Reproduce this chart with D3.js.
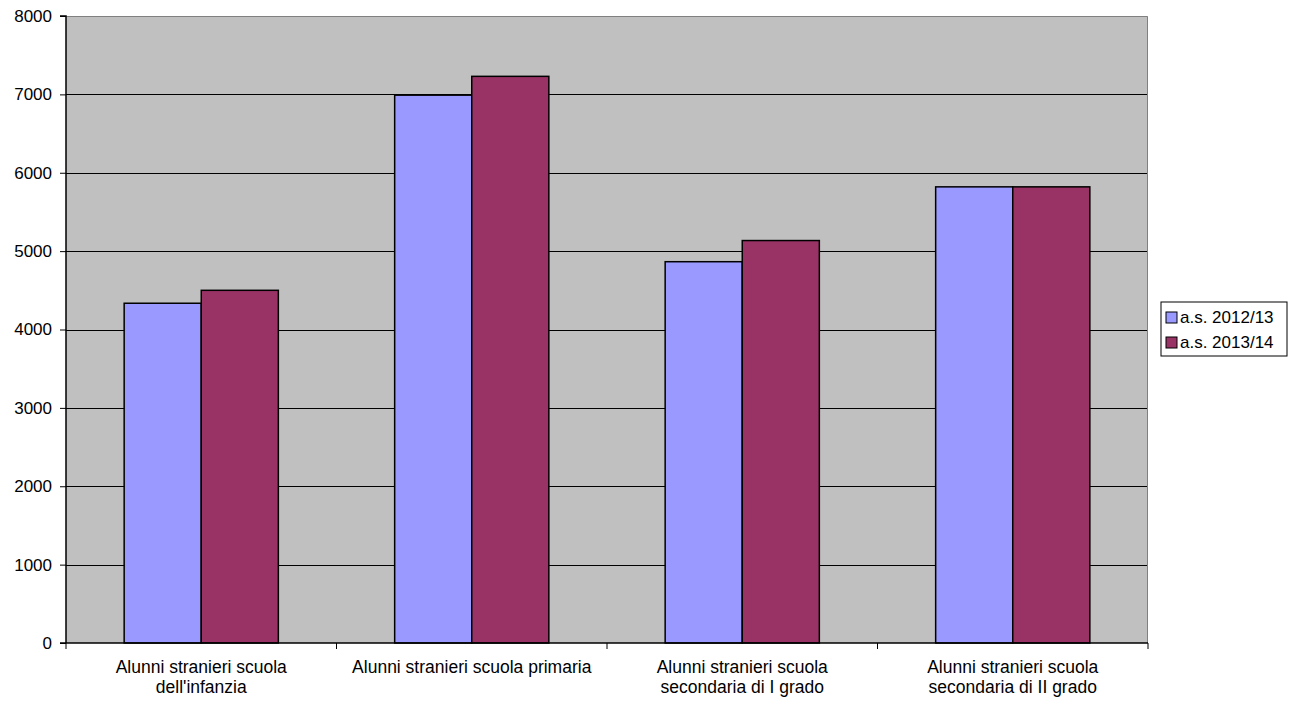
<!DOCTYPE html>
<html>
<head>
<meta charset="utf-8">
<script src="https://cdn.jsdelivr.net/npm/d3@7"></script>
<style>
  body { margin: 0; background: #fff; }
  text { font-family: "Liberation Sans", Arial, sans-serif; }
</style>
</head>
<body>
<div id="chart"></div>
<script>
var categories = [
    ["Alunni stranieri scuola", "dell'infanzia"],
    ["Alunni stranieri scuola primaria"],
    ["Alunni stranieri scuola", "secondaria di I grado"],
    ["Alunni stranieri scuola", "secondaria di II grado"]
];
var seriesNames = ["a.s. 2012/13", "a.s. 2013/14"];
var values2012 = [4335, 6990, 4865, 5820];
var values2013 = [4500, 7230, 5135, 5820];
var yTicks = [0, 1000, 2000, 3000, 4000, 5000, 6000, 7000, 8000];

var colors = ["#9999ff", "#993366"];

var margin = {top: 16, left: 66, right: 149, bottom: 59};
var width = 1297 - margin.left - margin.right;
var height = 702 - margin.top - margin.bottom;

var svg = d3.select("#chart").append("svg")
    .attr("width", 1297)
    .attr("height", 702);

var g = svg.append("g")
    .attr("transform", "translate(" + margin.left + "," + margin.top + ")");

var x0 = d3.scaleBand()
    .domain(d3.range(categories.length))
    .range([0, width])
    .paddingInner(0.43)
    .paddingOuter(0.215);

var x1 = d3.scaleBand()
    .domain([0, 1])
    .range([0, x0.bandwidth()]);

var y = d3.scaleLinear()
    .domain([0, 8000])
    .range([height, 0]);

// plot background
g.append("rect")
    .attr("width", width)
    .attr("height", height)
    .attr("fill", "#c0c0c0");

// gridlines
g.selectAll(".grid")
    .data(yTicks.filter(function(d) { return d > 0 && d < 8000; }))
    .enter().append("line")
    .attr("x1", 0)
    .attr("x2", width)
    .attr("y1", function(d) { return Math.round(y(d)) + 0.5; })
    .attr("y2", function(d) { return Math.round(y(d)) + 0.5; })
    .attr("stroke", "#000")
    .attr("stroke-width", 1);

// top and right border
g.append("path")
    .attr("d", "M0,0.5H" + (width - 0.5) + "V" + height)
    .attr("fill", "none")
    .attr("stroke", "#808080")
    .attr("stroke-width", 1);

// bars
var data = categories.map(function(c, i) {
    return [values2012[i], values2013[i]];
});

var groups = g.selectAll(".group")
    .data(data)
    .enter().append("g")
    .attr("transform", function(d, i) { return "translate(" + x0(i) + ",0)"; });

groups.selectAll("rect")
    .data(function(d) { return d; })
    .enter().append("rect")
    .attr("x", function(d, i) { return x1(i); })
    .attr("y", function(d) { return y(d); })
    .attr("width", x1.bandwidth())
    .attr("height", function(d) { return height - y(d); })
    .attr("fill", function(d, i) { return colors[i]; })
    .attr("stroke", "#000")
    .attr("stroke-width", 1.5);

// y axis
var yAxis = g.append("g")
    .call(d3.axisLeft(y).tickValues(yTicks).tickSize(6).tickPadding(8).tickFormat(d3.format("d")));
yAxis.select(".domain").attr("stroke", "#000").attr("stroke-width", 1.5).attr("d", "M-6,0H0V" + height);
yAxis.selectAll("text").attr("font-size", 17).attr("fill", "#000");

// x axis
var xAxisG = g.append("g")
    .attr("transform", "translate(0," + height + ")");
xAxisG.append("line")
    .attr("x1", -6)
    .attr("x2", width)
    .attr("stroke", "#000")
    .attr("stroke-width", 1.5);
xAxisG.selectAll(".xtick")
    .data(d3.range(categories.length + 1))
    .enter().append("line")
    .attr("x1", function(i) { return i * width / categories.length; })
    .attr("x2", function(i) { return i * width / categories.length; })
    .attr("y1", 0)
    .attr("y2", 6)
    .attr("stroke", "#000");

xAxisG.selectAll(".xlabel")
    .data(categories)
    .enter().append("text")
    .attr("text-anchor", "middle")
    .attr("font-size", 17.5)
    .attr("transform", function(d, i) {
        return "translate(" + (x0(i) + x0.bandwidth() / 2) + ",0)";
    })
    .selectAll("tspan")
    .data(function(d) { return d; })
    .enter().append("tspan")
    .attr("x", 0)
    .attr("y", function(d, i) { return 30 + i * 20; })
    .text(function(d) { return d; });

// legend
var legend = svg.append("g")
    .attr("transform", "translate(1161,302)");
legend.append("rect")
    .attr("width", 126)
    .attr("height", 54)
    .attr("fill", "#fff")
    .attr("stroke", "#000")
    .attr("stroke-width", 1);

var items = legend.selectAll(".item")
    .data(seriesNames)
    .enter().append("g")
    .attr("transform", function(d, i) { return "translate(5," + (10 + i * 25) + ")"; });
items.append("rect")
    .attr("width", 11)
    .attr("height", 11)
    .attr("fill", function(d, i) { return colors[i]; })
    .attr("stroke", "#000");
items.append("text")
    .attr("x", 14)
    .attr("y", 11)
    .attr("font-size", 17)
    .text(function(d) { return d; });
</script>
</body>
</html>
